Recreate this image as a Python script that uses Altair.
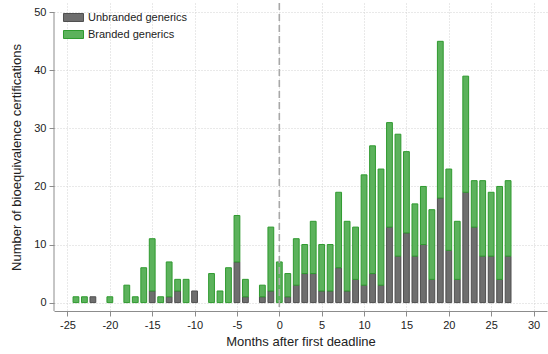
import altair as alt
import pandas as pd

# Months relative to the first deadline
months = list(range(-24, 28))

# Certifications per month, unbranded generics
unbranded = [0, 0, 1, 0, 0, 0, 0, 0, 0, 2, 0, 1, 2, 0, 2, 0, 0, 0, 0, 7,
             1, 0, 1, 2, 0, 1, 3, 5, 5, 2, 2, 6, 2, 4, 3, 5, 3, 13, 8, 12,
             8, 10, 4, 18, 9, 4, 19, 13, 8, 8, 4, 8]

# Certifications per month, branded generics
branded = [1, 1, 0, 0, 1, 0, 3, 1, 6, 9, 1, 6, 2, 4, 0, 0, 5, 2, 6, 8,
           3, 0, 2, 11, 7, 4, 8, 5, 9, 8, 8, 13, 12, 9, 19, 22, 20, 18, 21, 14,
           9, 10, 12, 27, 14, 10, 20, 8, 13, 11, 16, 13]

groups = ["Unbranded generics", "Branded generics"]
fills = ["#6e6e6e", "#5cb25c"]
strokes = ["#4f4f4f", "#2f9a2f"]

rows = []
for m, u, b in zip(months, unbranded, branded):
    rows.append({"month": m, "group": groups[0], "rank": 0, "n": u})
    rows.append({"month": m, "group": groups[1], "rank": 1, "n": b})
df = pd.DataFrame(rows)
df = df[df["n"] > 0]

W, H = 493, 308
x_scale = alt.Scale(domain=[-26, 31], nice=False, zero=False)
y_scale = alt.Scale(domain=[-1.45, 51.6], nice=False, zero=False)

# plain hyphen for negative tick labels
plain_label = "'' + datum.value"

bars = alt.Chart(df).mark_bar(size=5.8, strokeWidth=1).encode(
    x=alt.X("month:Q", scale=x_scale,
            axis=alt.Axis(values=list(range(-25, 31, 5)), labelExpr=plain_label,
                          title="Months after first deadline")),
    y=alt.Y("sum(n):Q", stack="zero", scale=y_scale,
            axis=alt.Axis(values=list(range(0, 51, 10)), domain=False,
                          labelExpr=plain_label,
                          title="Number of bioequivalence certifications")),
    color=alt.Color("group:N",
                    scale=alt.Scale(domain=groups, range=fills),
                    sort=groups,
                    legend=alt.Legend(title=None, orient="none",
                                      legendX=12, legendY=7,
                                      symbolType="M-1.43,-0.57H1.43V0.57H-1.43Z",
                                      symbolSize=196, symbolStrokeWidth=1,
                                      symbolOpacity=1,
                                      labelFontSize=11, labelColor="#222222",
                                      labelFont="Liberation Sans",
                                      rowPadding=3, labelOffset=7)),
    stroke=alt.Stroke("group:N",
                      scale=alt.Scale(domain=groups, range=strokes),
                      legend=None),
    order=alt.Order("rank:Q"),
)

# Reference line at the first deadline
deadline = alt.Chart(pd.DataFrame({"m": [0]})).mark_rule(
    color="#a8a8a8", strokeWidth=1.6, strokeDash=[7, 4]
).encode(x=alt.X("m:Q", scale=x_scale), y=alt.value(0), y2=alt.value(H))

# Left axis line running from 50 down to the x axis
yline = alt.Chart(pd.DataFrame({"v": [50]})).mark_rule(
    color="#8c8c8c", strokeWidth=1
).encode(x=alt.value(0), y=alt.Y("v:Q", scale=y_scale), y2=alt.value(H))

chart = alt.layer(bars, deadline, yline).properties(
    width=W, height=H,
    autosize=alt.AutoSizeParams(type="none"),
    padding={"left": 54, "top": 3, "right": 1, "bottom": 43},
    background="white",
).configure_view(stroke=None).configure_axis(
    labelFont="Liberation Sans", titleFont="Liberation Sans",
    labelFontSize=11, titleFontSize=13, titleFontWeight="normal",
    labelColor="#222222", titleColor="#222222",
    domainColor="#8c8c8c", tickColor="#8c8c8c", tickSize=5,
    gridColor="#d2d2d2", gridDash=[1, 2], gridWidth=1,
    labelPadding=3,
).configure_axisX(titlePadding=5).configure_axisY(titlePadding=10)

chart.save("out.html", embed_options={"renderer": "svg", "actions": False})
